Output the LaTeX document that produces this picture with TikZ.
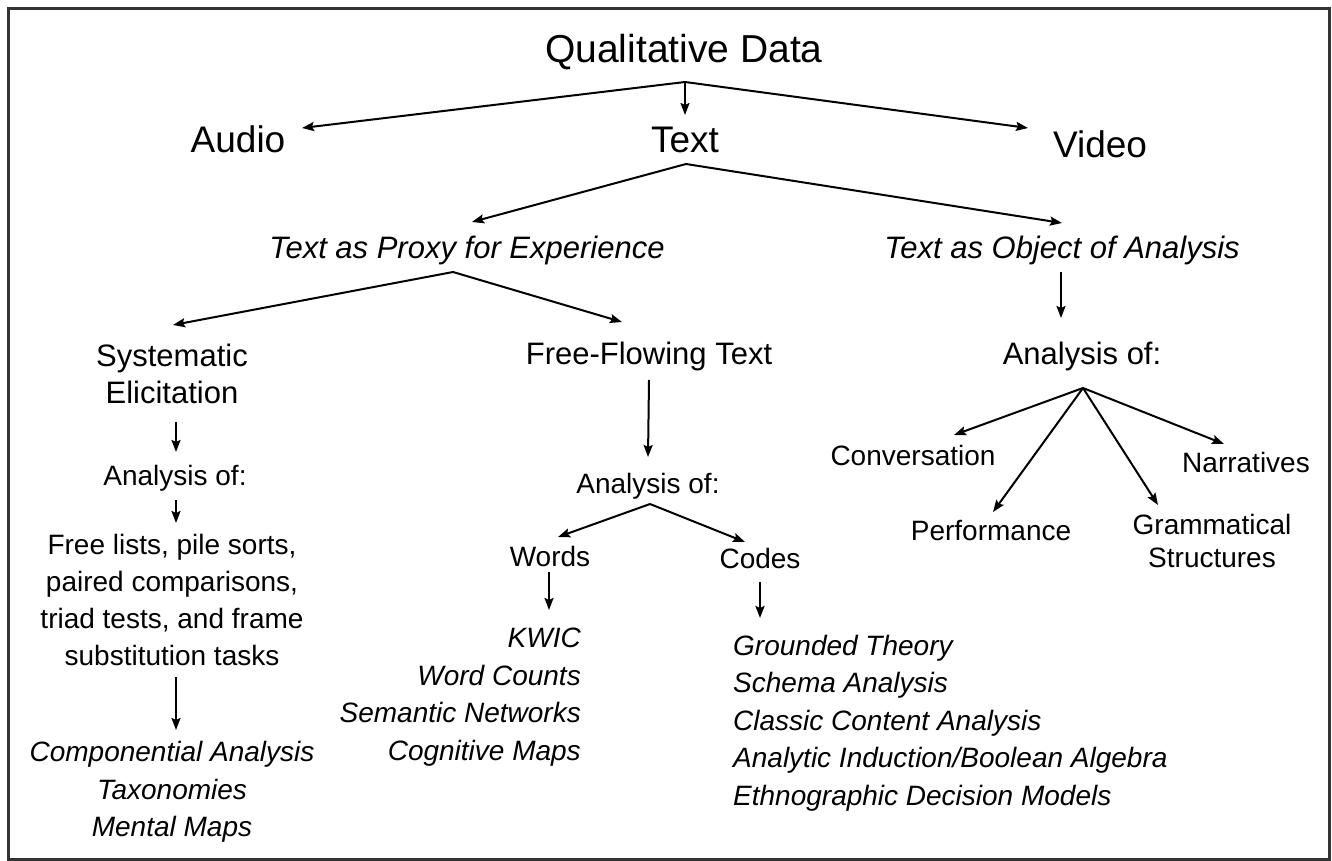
\documentclass[tikz,border=0pt]{standalone}
\usepackage{fontspec}
\setmainfont{Liberation Sans}
\usetikzlibrary{arrows.meta}

\tikzset{
  lbl/.style={inner sep=0pt, anchor=base},
  huge/.style={lbl, font=\fontsize{39}{45}\selectfont},
  big/.style={lbl, font=\fontsize{37}{44}\selectfont},
  mid/.style={lbl, font=\fontsize{31}{37}\selectfont},
  midit/.style={lbl, font=\fontsize{31}{37}\selectfont\itshape},
  small/.style={lbl, font=\fontsize{28}{37}\selectfont},
  smallit/.style={lbl, font=\fontsize{28}{37.5}\selectfont\itshape},
  arr/.style={-{Stealth[length=12pt,width=9pt,inset=2pt]}, line width=2pt},
}

\begin{document}
\begin{tikzpicture}[x=1pt, y=-1pt]
        \useasboundingbox (0,0) rectangle (1332,861);
        \draw[line width=3pt, black!80] (8,9) rectangle (1329,859);

        \node[huge] (qd) at (684,63) {Qualitative Data};
        \node[big] (audio) at (238,153) {Audio};
        \node[big] (text) at (685,153) {Text};
        \node[big] (video) at (1100,158) {Video};

        \node[midit] (proxy) at (467,258) {Text as Proxy for Experience};
        \node[midit] (object) at (1062,258) {Text as Object of Analysis};

        \node[mid, align=center, anchor=center] (sys) at (172,374) {Systematic\\Elicitation};
        \node[small] (sys-an) at (175,485) {Analysis of:};
        \node[small, align=center, anchor=center] (tasks) at (172,600) {Free lists, pile sorts,\\paired comparisons,\\triad tests, and frame\\substitution tasks};
        \node[smallit, align=center, anchor=center] (sys-res) at (172,792) {Componential Analysis\\Taxonomies\\Mental Maps};

        \node[mid] (free) at (649,364) {Free-Flowing Text};
        \node[small] (free-an) at (648,493) {Analysis of:};
        \node[small] (words) at (550,566) {Words};
        \node[small] (codes) at (760,568) {Codes};
        \node[smallit, align=right, anchor=east] (words-res) at (581,697) {KWIC\\Word Counts\\Semantic Networks\\Cognitive Maps};
        \node[smallit, align=left, anchor=west] (codes-res) at (733,723) {Grounded Theory\\Schema Analysis\\Classic Content Analysis\\Analytic Induction/Boolean Algebra\\Ethnographic Decision Models};

        \node[mid] (obj-an) at (1082,364) {Analysis of:};
        \node[small] (conv) at (913,465) {Conversation};
        \node[small] (narr) at (1246,472) {Narratives};
        \node[small] (perf) at (991,540) {Performance};
        \node[small, align=center, anchor=center, font=\fontsize{28}{33}\selectfont] (gram) at (1212,541) {Grammatical\\Structures};

        % forks and arrow ends
        \coordinate (qd-fork) at (685,82);
        \coordinate (audio-in) at (302,128);
        \coordinate (text-in) at (685,115);
        \coordinate (video-in) at (1028,128);

        \coordinate (text-fork) at (686,164);
        \coordinate (proxy-in) at (472,222);
        \coordinate (object-in) at (1062,223);

        \coordinate (proxy-fork) at (453,272);
        \coordinate (sys-in) at (173,325);
        \coordinate (free-in) at (622,322);

        \coordinate (object-out) at (1061,272);
        \coordinate (obj-an-in) at (1061,318);

        \coordinate (sys-out) at (176,422);
        \coordinate (sys-an-in) at (176,452);
        \coordinate (sys-an-out) at (176,500);
        \coordinate (tasks-in) at (176,523);
        \coordinate (tasks-out) at (176,677);
        \coordinate (sys-res-in) at (176,730);

        \coordinate (free-out) at (649,380);
        \coordinate (free-an-in) at (648,457);
        \coordinate (free-an-fork) at (650,504);
        \coordinate (words-in) at (558,537);
        \coordinate (codes-in) at (745,542);
        \coordinate (words-out) at (549,572);
        \coordinate (words-res-in) at (549,610);
        \coordinate (codes-out) at (760,582);
        \coordinate (codes-res-in) at (760,618);

        \coordinate (obj-an-fork) at (1083,388);
        \coordinate (conv-in) at (954,435);
        \coordinate (perf-in) at (993,512);
        \coordinate (gram-in) at (1158,505);
        \coordinate (narr-in) at (1224,444);

        \draw[arr] (qd-fork) -- (audio-in);
        \draw[arr] (qd-fork) -- (text-in);
        \draw[arr] (qd-fork) -- (video-in);
        \draw[arr] (text-fork) -- (proxy-in);
        \draw[arr] (text-fork) -- (object-in);
        \draw[arr] (proxy-fork) -- (sys-in);
        \draw[arr] (proxy-fork) -- (free-in);
        \draw[arr] (object-out) -- (obj-an-in);

        \draw[arr] (sys-out) -- (sys-an-in);
        \draw[arr] (sys-an-out) -- (tasks-in);
        \draw[arr] (tasks-out) -- (sys-res-in);

        \draw[arr] (free-out) -- (free-an-in);
        \draw[arr] (free-an-fork) -- (words-in);
        \draw[arr] (free-an-fork) -- (codes-in);
        \draw[arr] (words-out) -- (words-res-in);
        \draw[arr, line width=2.4pt] (codes-out) -- (codes-res-in);

        \draw[arr] (obj-an-fork) -- (conv-in);
        \draw[arr] (obj-an-fork) -- (perf-in);
        \draw[arr] (obj-an-fork) -- (gram-in);
        \draw[arr] (obj-an-fork) -- (narr-in);
\end{tikzpicture}
\end{document}
